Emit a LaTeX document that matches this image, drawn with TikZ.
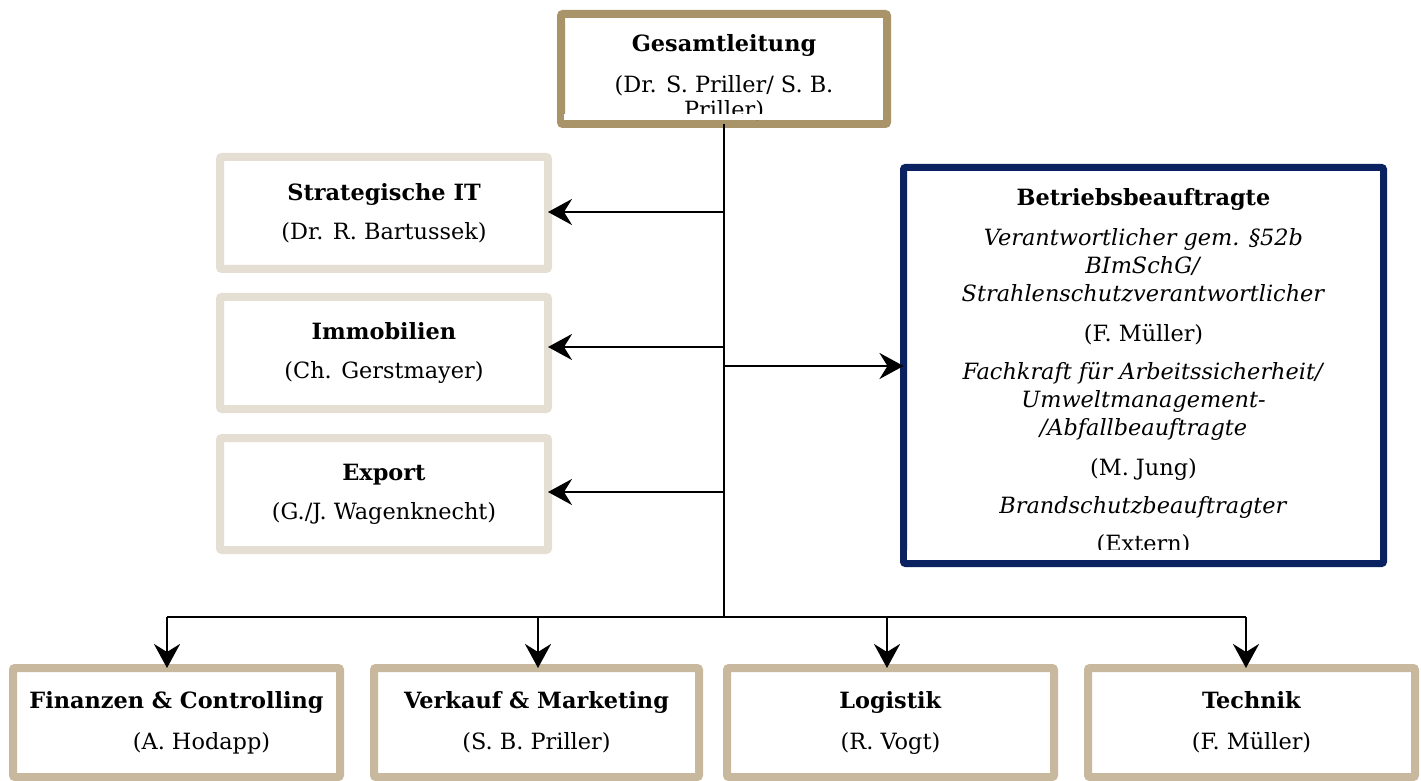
\documentclass[tikz,border=0pt]{standalone}
\usepackage{fontspec}
\setmainfont{DejaVu Serif}
\usepackage{xcolor}
\definecolor{head-tan}{RGB}{168,148,104}
\definecolor{unit-tan}{RGB}{200,185,158}
\definecolor{staff-beige}{RGB}{229,223,211}
\definecolor{officer-blue}{RGB}{10,34,96}
\usetikzlibrary{arrows.meta}
\tikzset{
	orgbox/.style={draw,fill=white,line width=4pt,rounded corners=1pt,outer sep=0pt,
		align=center,inner sep=0pt,font=\fontsize{11.2pt}{13.5pt}\selectfont},
	headbox/.style={orgbox,draw=head-tan,minimum width=163pt,minimum height=55pt},
	staffbox/.style={orgbox,draw=staff-beige,minimum width=164pt,minimum height=56pt},
	unitbox/.style={orgbox,draw=unit-tan,minimum width=163.5pt,minimum height=54.5pt},
	officerbox/.style={orgbox,draw=officer-blue,line width=3.5pt,
		minimum width=240pt,minimum height=198pt,font=\fontsize{11.2pt}{14pt}\selectfont},
	line/.style={line width=1.35pt},
	link/.style={line,-{Stealth[length=12pt,width=13pt,inset=4pt]}},
}
\newcommand*\boss[1]{\textbf{#1}}
\newcommand*\duty[1]{\textit{#1}}

\begin{document}
\begin{tikzpicture}[x=0.5pt,y=-0.5pt]
	\useasboundingbox (0,0) rectangle (1421,781);
	
	% management
	\node[headbox] (ges) at (724,69)
		{\rule{0pt}{17.5pt}\boss{Gesamtleitung}\\[7pt] (Dr. S. Priller/ S. B.\\[-1pt] Priller)};
	
	% staff units
	\node[staffbox] (sit) at (384,213)
		{\boss{Strategische IT}\\[6pt] (Dr. R. Bartussek)};
	\node[staffbox] (imm) at (384,353)
		{\boss{Immobilien}\\[6pt] (Ch. Gerstmayer)};
	\node[staffbox] (exp) at (384,494)
		{\boss{Export}\\[6pt] (G./J. Wagenknecht)};
	
	% company officers
	\node[officerbox] (bet) at (1143.5,365.5)
		{\rule{0pt}{14.5pt}\boss{Betriebsbeauftragte}\\[6pt]
		\duty{Verantwortlicher gem. §52b}\\ \duty{BImSchG/}\\
		\duty{Strahlenschutzverantwortlicher}\\[6pt]
		(F. Müller)\\[5pt]
		\duty{Fachkraft für Arbeitssicherheit/}\\ \duty{Umweltmanagement-}\\
		\duty{/Abfallbeauftragte}\\[6pt]
		(M. Jung)\\[5pt]
		\duty{Brandschutzbeauftragter}\\[5pt]
		(Extern)};
	
	% departments
	\node[unitbox] (fin) at (176.5,722.5)
		{\boss{Finanzen \& Controlling}\\[7pt] \hspace*{25pt}(A. Hodapp)};
	\node[unitbox,minimum width=162.5pt] (ver) at (536.5,722.5)
		{\boss{Verkauf \& Marketing}\\[7pt] (S. B. Priller)};
	\node[unitbox] (log) at (890.5,722.5)
		{\boss{Logistik}\\[7pt] (R. Vogt)};
	\node[unitbox] (tec) at (1251.5,722.5)
		{\boss{Technik}\\[7pt] (F. Müller)};
	
	% cut-off last lines
	\fill[white] (564,114) rectangle (882,120);
	\fill[white] (907,550) rectangle (1380,560);
	
	% connectors
	\coordinate (bus) at (724,617);
	\draw[line] (ges.south) -- (bus);
	\foreach \s/\y in {sit/212,imm/347,exp/492} {
		\coordinate (j\s) at (724,\y);
		\draw[link] (j\s) -- (j\s -| \s.east);
	}
	\coordinate (jbet) at (724,366);
	\draw[link] (jbet) -- (jbet -| bet.west);
	
	\coordinate (bfin) at (167,617);
	\coordinate (btec) at (1246,617);
	\draw[line] (bfin) -- (btec);
	\foreach \u/\x in {fin/167,ver/538,log/887,tec/1246} {
		\coordinate (b\u) at (\x,617);
		\draw[link] (b\u) -- (b\u |- \u.north);
	}
\end{tikzpicture}
\end{document}
